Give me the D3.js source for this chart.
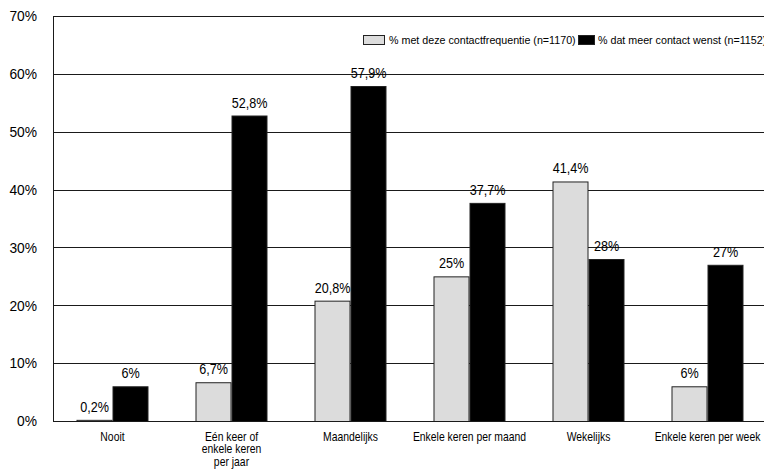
<!DOCTYPE html>
<html>
<head>
<meta charset="utf-8">
<script src="https://cdn.jsdelivr.net/npm/d3@7/dist/d3.min.js"></script>
<style>
  html, body { margin: 0; padding: 0; background: #fff; }
  svg { display: block; font-family: "Liberation Sans", Arial, sans-serif; }
</style>
</head>
<body>
<svg id="chart" width="764" height="474"></svg>
<script>
// Contact frequency categories (line breaks mark wrapped labels)
const categories = [
  "Nooit",
  "Eén keer of\nenkele keren\nper jaar",
  "Maandelijks",
  "Enkele keren per maand",
  "Wekelijks",
  "Enkele keren per week"
];
const seriesNames = [
  "% met deze contactfrequentie (n=1170)",
  "% dat meer contact wenst (n=1152)"
];
const frequencyValues = [0.2, 6.7, 20.8, 25, 41.4, 6];
const moreContactValues = [6, 52.8, 57.9, 37.7, 28, 27];
const valueLabels1 = ["0,2%", "6,7%", "20,8%", "25%", "41,4%", "6%"];
const valueLabels2 = ["6%", "52,8%", "57,9%", "37,7%", "28%", "27%"];
const yTicks = [0, 10, 20, 30, 40, 50, 60, 70];

const seriesColors = ["#dcdcdc", "#000000"];

const svg = d3.select("#chart");
const margin = { left: 53, top: 16, right: -3, bottom: 53 };
const W = 764, H = 474;
const plotRight = W - margin.right;
const plotBottom = H - margin.bottom;

const y = d3.scaleLinear().domain([0, 70]).range([plotBottom, margin.top]);
const x0 = d3.scaleBand().domain(categories).range([margin.left, plotRight])
  .paddingInner(0.395).paddingOuter(0.1975);
const x1 = d3.scaleBand().domain([0, 1]).range([0, x0.bandwidth()]);

// Squeeze text horizontally around its anchor point (condensed typeface look)
function condense(sel, sx) {
  sel.each(function () {
    const t = d3.select(this);
    const x = +t.attr("x") || 0;
    t.attr("transform", `translate(${x},0) scale(${sx},1)`).attr("x", 0);
    t.selectAll("tspan").attr("x", 0);
  });
}

// Horizontal gridlines (including the top border at 70%)
svg.append("g").selectAll("line")
  .data(yTicks.filter(t => t > 0))
  .join("line")
  .attr("x1", margin.left).attr("x2", W)
  .attr("y1", d => Math.round(y(d)) + 0.5).attr("y2", d => Math.round(y(d)) + 0.5)
  .attr("stroke", "#1a1a1a").attr("stroke-width", 1);

// Y axis labels
const yAxis = d3.axisLeft(y).tickValues(yTicks).tickSize(0).tickPadding(16)
  .tickFormat(d => d + "%");
const gy = svg.append("g").attr("transform", `translate(${margin.left},0)`).call(yAxis);
gy.select(".domain").remove();
gy.selectAll("text").attr("font-size", 15).attr("fill", "#000")
  .attr("font-family", null);
condense(gy.selectAll("text"), 0.92);

// Bars
const rows = categories.map((c, i) => ({
  cat: c,
  vals: [frequencyValues[i], moreContactValues[i]],
  labels: [valueLabels1[i], valueLabels2[i]]
}));

const groups = svg.append("g").selectAll("g")
  .data(rows).join("g")
  .attr("transform", d => `translate(${x0(d.cat)},0)`);

groups.selectAll("rect")
  .data(d => d.vals.map((v, s) => ({ v, s })))
  .join("rect")
  .attr("x", d => x1(d.s) + 0.5)
  .attr("y", d => y(d.v) + 0.5)
  .attr("width", x1.bandwidth() - 1)
  .attr("height", d => Math.max(0, y(0) - y(d.v)))
  .attr("fill", d => seriesColors[d.s])
  .attr("stroke", "#222").attr("stroke-width", 1);

const valueText = groups.selectAll("text.val")
  .data(d => d.vals.map((v, s) => ({ v, s, label: d.labels[s] })))
  .join("text")
  .attr("class", "val")
  .attr("x", d => x1(d.s) + x1.bandwidth() / 2)
  .attr("y", d => y(d.v) - 8)
  .attr("text-anchor", "middle")
  .attr("font-size", 14.5)
  .attr("fill", "#000")
  .text(d => d.label);
condense(valueText, 0.87);

// Axes lines
svg.append("line")
  .attr("x1", margin.left + 0.5).attr("x2", margin.left + 0.5)
  .attr("y1", margin.top).attr("y2", plotBottom + 1)
  .attr("stroke", "#1a1a1a");
svg.append("line")
  .attr("x1", margin.left).attr("x2", W)
  .attr("y1", Math.round(y(0)) + 0.5).attr("y2", Math.round(y(0)) + 0.5)
  .attr("stroke", "#1a1a1a");

// Category labels
const xl = svg.append("g").selectAll("text")
  .data(categories).join("text")
  .attr("x", d => x0(d) + x0.bandwidth() / 2)
  .attr("y", plotBottom + 20)
  .attr("text-anchor", "middle")
  .attr("font-size", 13)
  .attr("fill", "#000");
xl.each(function (d) {
  const t = d3.select(this);
  d.split("\n").forEach((line, i) => {
    t.append("tspan")
      .attr("dy", i === 0 ? 0 : 12.5)
      .text(line);
  });
});
condense(xl, 0.8);

// Legend
const legendItems = [
  { name: seriesNames[0], color: seriesColors[0], bx: 363, tx: 389 },
  { name: seriesNames[1], color: seriesColors[1], bx: 578, tx: 598 }
];
const legend = svg.append("g");
legendItems.forEach(item => {
  legend.append("text")
    .attr("x", item.tx).attr("y", 44)
    .attr("font-size", 10.7).attr("fill", "#000")
    .text(item.name);
});
legendItems.forEach((item, i) => {
  legend.append("rect")
    .attr("x", item.bx + 0.5).attr("y", 35.5)
    .attr("width", i === 0 ? 21 : 16).attr("height", 9)
    .attr("fill", item.color).attr("stroke", "#222");
});
</script>
</body>
</html>
